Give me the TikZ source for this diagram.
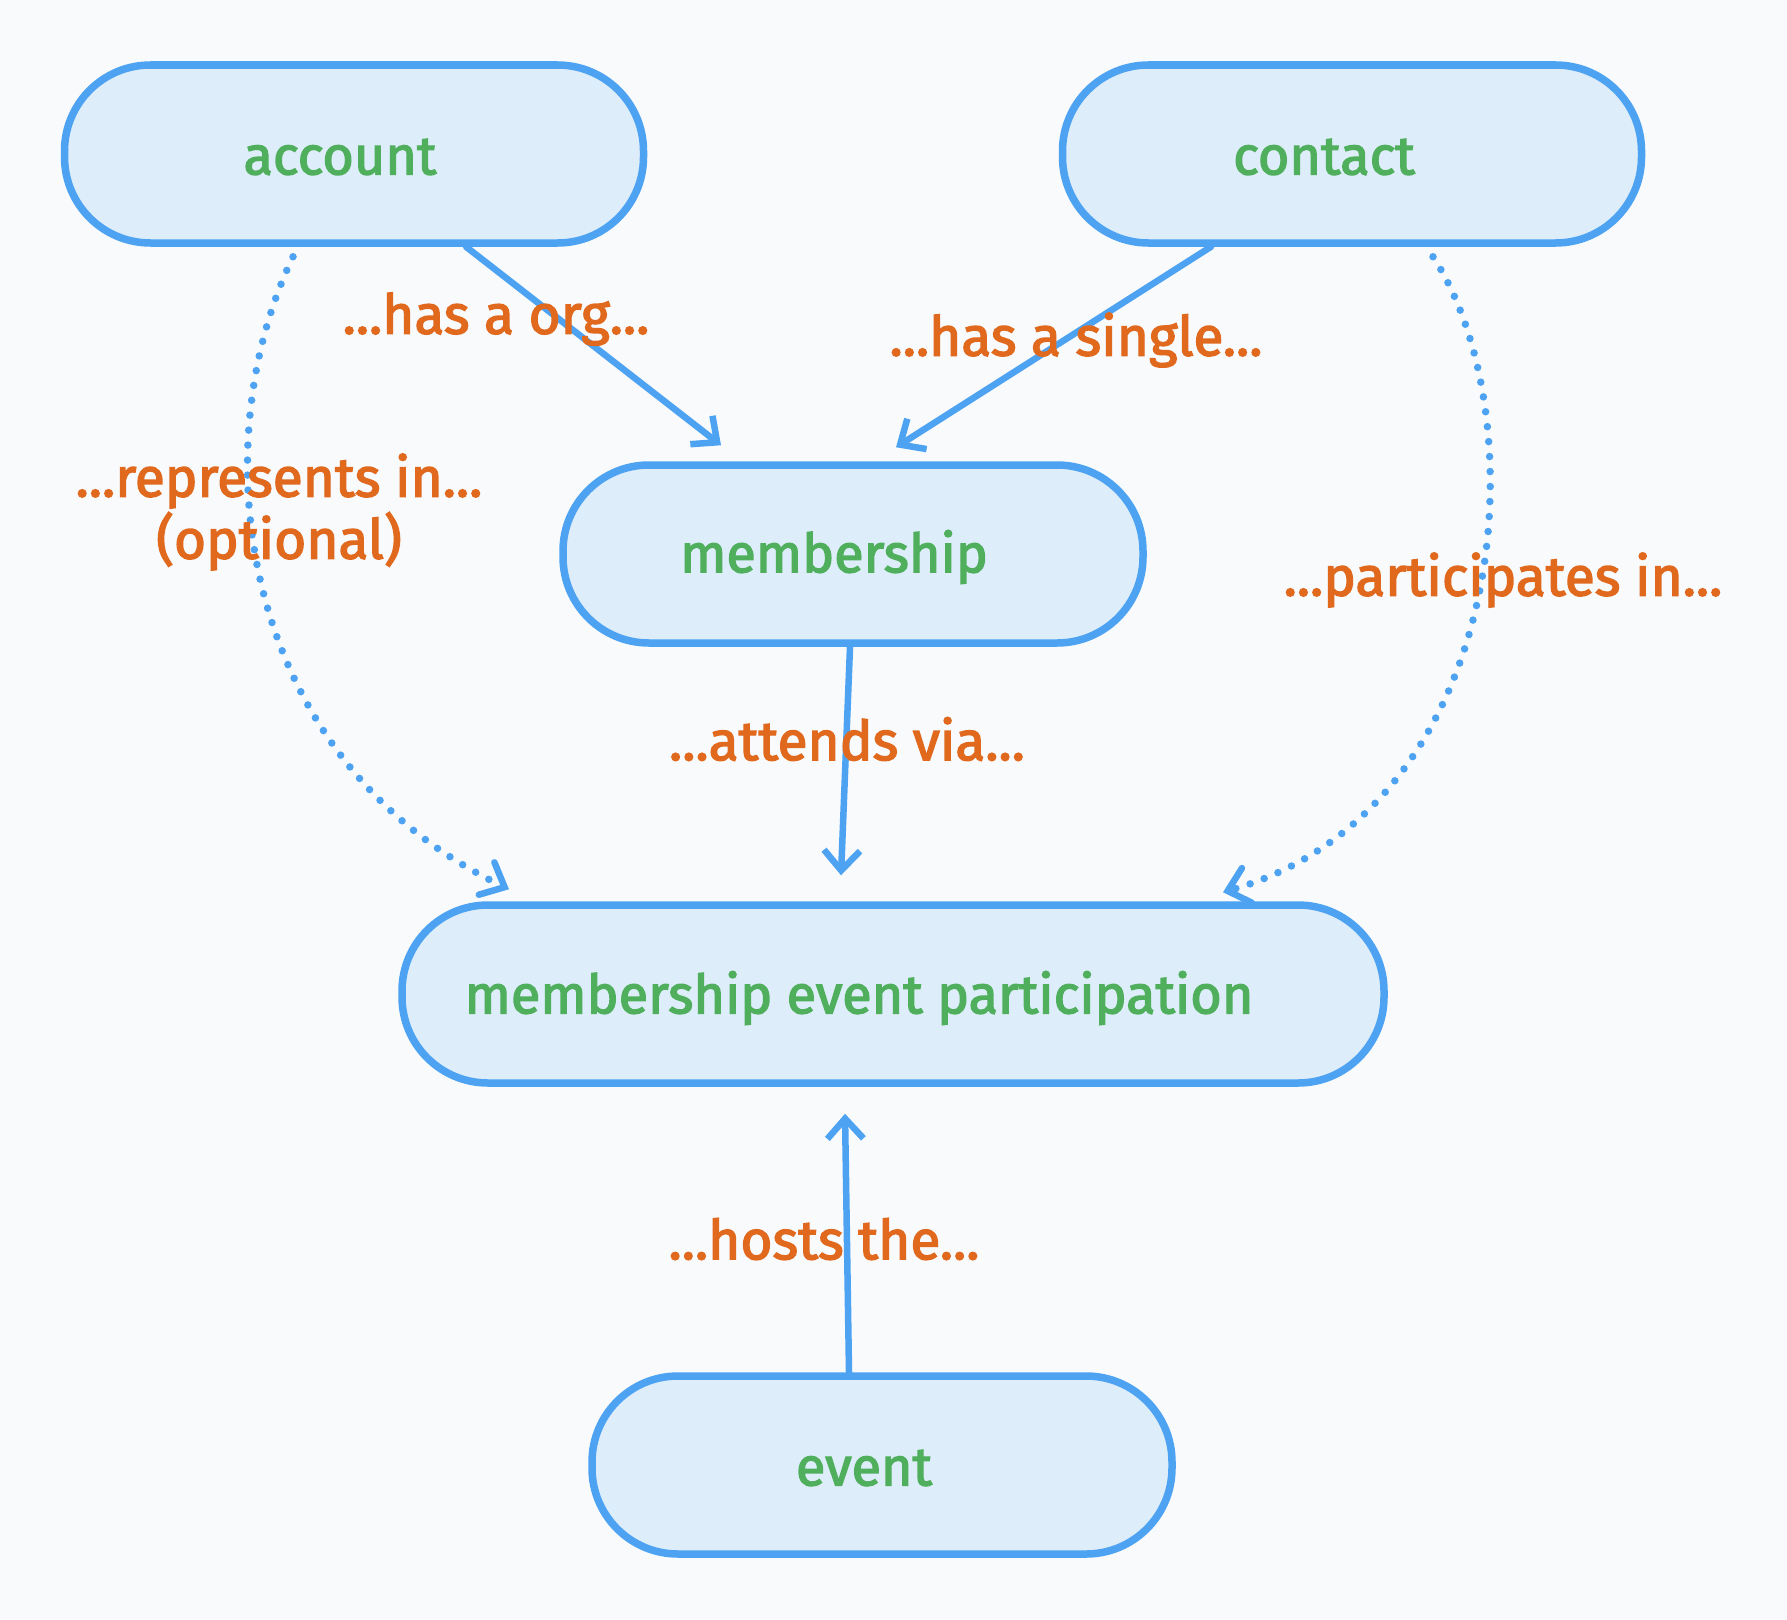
\documentclass[tikz,border=0pt]{standalone}
\usepackage{fontspec}
\setmainfont{Fira Sans}
\newfontfamily\handfont{Fira Sans}[FakeBold=2.5]
\usetikzlibrary{arrows.meta}
\definecolor{bgc}{HTML}{F8FAFC}
\definecolor{fillc}{HTML}{DDEDFA}
\definecolor{strokec}{HTML}{4DA3F2}
\definecolor{greenc}{HTML}{4FAF5C}
\definecolor{orangec}{HTML}{E0691E}
\tikzset{
  ent/.style={draw=strokec, fill=fillc, line width=7.5pt, rounded corners=86pt,
    minimum height=178pt, inner sep=0pt},
  enttext/.style={text=greenc, font=\handfont\fontsize{54}{64}\selectfont},
  edgetext/.style={text=orangec, font=\handfont\fontsize{55}{62}\selectfont, align=center, inner sep=0pt},
  rel/.style={draw=strokec, line width=6.5pt, line cap=round,
    -{Straight Barb[length=20pt,width=36pt,line width=6.5pt]}},
  optrel/.style={draw=strokec, line width=7.5pt, line cap=round, dash pattern=on 0pt off 15pt,
    -{Straight Barb[length=20pt,width=36pt,line width=6.5pt,line cap=round]}},
}
\begin{document}
\begin{tikzpicture}[x=1pt,y=-1pt]
\path[fill=bgc, use as bounding box] (0,0) rectangle (1787,1619);

\node[ent, minimum width=579pt, label={[enttext, xshift=-14pt, yshift=-3pt]center:account}] (account) at (354,154) {};
\node[ent, minimum width=579pt, label={[enttext, xshift=-28pt, yshift=-3pt]center:contact}] (contact) at (1352,154) {};
\node[ent, minimum width=580pt, label={[enttext, xshift=-19pt, yshift=-3pt]center:membership}] (membership) at (853,554) {};
\node[ent, minimum width=982pt, label={[enttext, xshift=-34pt, yshift=-4pt]center:membership event participation}] (mep) at (893,994) {};
\node[ent, minimum width=580pt, label={[enttext, xshift=-18pt, yshift=-3pt]center:event}] (event) at (882,1465) {};

% connectors
\draw[rel] ([xshift=112pt]account.south) -- ([xshift=-132pt,yshift=16pt]membership.north);
\draw[rel] ([xshift=-141pt]contact.south) -- ([xshift=43pt,yshift=14pt]membership.north);
\draw[rel] ([xshift=-3pt]membership.south) -- ([xshift=-52pt,yshift=26pt]mep.north);
\draw[rel] ([xshift=-33pt]event.north) -- ([xshift=-48pt,yshift=-27pt]mep.south);
\draw[optrel] ([xshift=-61pt,yshift=-10pt]account.south) .. controls (200,450) and (240,760) .. ([xshift=-384pt,yshift=12pt]mep.north);
\draw[optrel] ([xshift=81pt,yshift=-10pt]contact.south) .. controls (1540,420) and (1510,810) .. ([xshift=330pt,yshift=9pt]mep.north);

% connector labels
\node[edgetext] (l1) at (496,319) {...has a org...};
\node[edgetext] (l2) at (1076,340) {...has a single...};
\node[edgetext] (l3) at (279,512) {...represents in...\\(optional)};
\node[edgetext] (l4) at (1503,580) {...participates in...};
\node[edgetext] (l5) at (847,739) {...attends via...};
\node[edgetext] (l6) at (824,1239) {...hosts the...};
\end{tikzpicture}
\end{document}
